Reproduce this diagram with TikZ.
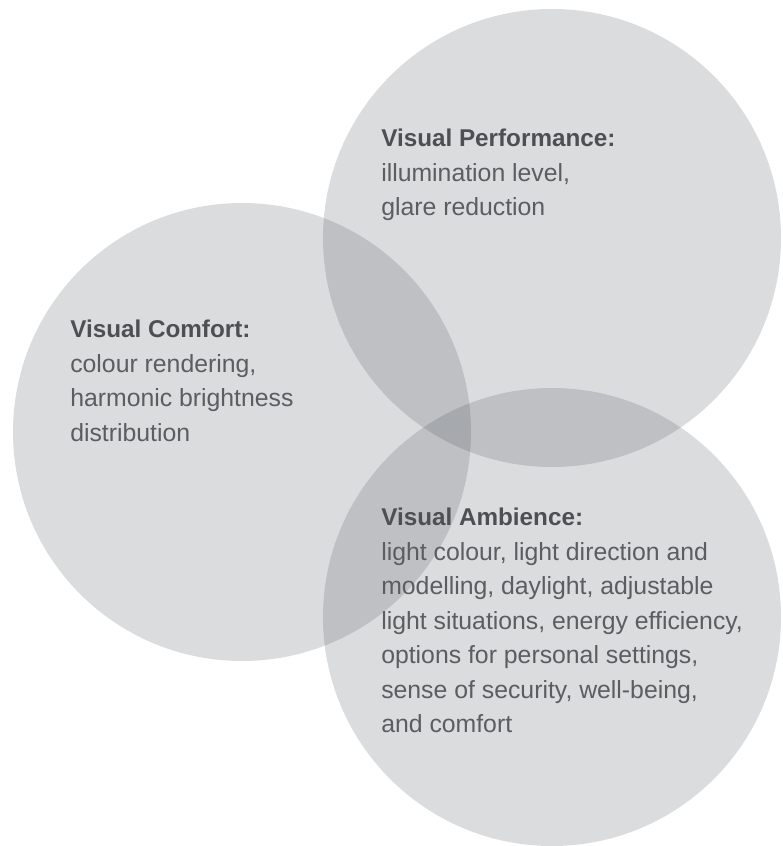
\documentclass[tikz,border=0pt]{standalone}
\usepackage{fontspec}
\setmainfont{Liberation Sans}
\definecolor{discgray}{RGB}{60,65,75}
\definecolor{headgray}{RGB}{78,79,82}
\definecolor{bodygray}{RGB}{92,93,96}
\tikzset{
  disc/.style={fill=discgray, fill opacity=0.18, draw=none},
  head/.style={anchor=base west, inner sep=0pt, text=headgray,
    font=\fontsize{18.2}{22}\selectfont\bfseries},
  body/.style={anchor=base west, inner sep=0pt, text=bodygray,
    font=\fontsize{18.6}{22}\selectfont}
}
\begin{document}
\begin{tikzpicture}[x=0.75pt,y=-0.75pt]
\useasboundingbox (0,0) rectangle (782,846);
\fill[white] (0,0) rectangle (782,846);
% circles
\path[disc] (552,238) circle[radius=229];
\path[disc] (242,432) circle[radius=229];
\path[disc] (552,617) circle[radius=229];
% Visual Performance
\node[head] (perfH) at (381,146.5) {Visual Performance:};
\node[body] (perfA) at (381,181) {illumination level,};
\node[body] (perfB) at (381,215.5) {glare reduction};
% Visual Comfort
\node[head] (comfH) at (70,337.5) {Visual Comfort:};
\node[body] (comfA) at (70,372) {colour rendering,};
\node[body] (comfB) at (70,406.5) {harmonic brightness};
\node[body] (comfC) at (70,441) {distribution};
% Visual Ambience
\node[head] (ambH) at (381,525.5) {Visual Ambience:};
\node[body] (ambA) at (381,560) {light colour, light direction and};
\node[body] (ambB) at (381,594.5) {modelling, daylight, adjustable};
\node[body] (ambC) at (381,629) {light situations, energy efficiency,};
\node[body] (ambD) at (381,663.5) {options for personal settings,};
\node[body] (ambE) at (381,698) {sense of security, well-being,};
\node[body] (ambF) at (381,732.5) {and comfort};
\end{tikzpicture}
\end{document}
